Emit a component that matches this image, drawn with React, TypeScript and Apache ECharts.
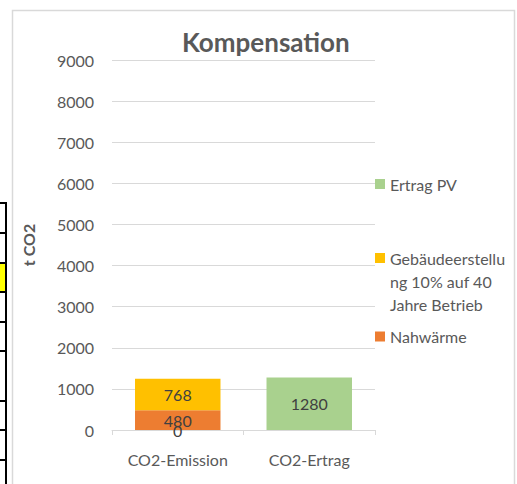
import React, { useEffect, useRef } from "react";
import * as echarts from "echarts";

const categories = ["CO2-Emission", "CO2-Ertrag"];
const ertragPV = [0, 1280];
const nahwaerme = [480, null];
const gebaeude = [768, null];
const yTicks = { min: 0, max: 9000, interval: 1000 };
const gebName = "Gebäudeerstellung 10% auf 40 Jahre Betrieb";

const FONT = "Lato";
const GRAY = "#595959";

export default function App() {
  const ref = useRef<HTMLDivElement>(null);
  useEffect(() => {
    const chart = echarts.init(ref.current!, null, { renderer: "svg" });
    const label = {
      show: true,
      position: "inside",
      color: "#404040",
      fontSize: 16,
      fontFamily: FONT,
    };
    const legendText = { color: GRAY, fontSize: 16, fontFamily: FONT, lineHeight: 23 };
    const cellLines = [203, 233, 263, 292, 322, 351, 401, 430, 460].map((y) => ({
      type: "line",
      shape: { x1: 0, y1: y, x2: 7, y2: y },
      style: { stroke: "#000", lineWidth: 2 },
      z: 10,
    }));
    chart.setOption({
      animation: false,
      backgroundColor: "#fff",
      title: {
        text: "Kompensation",
        left: 177,
        top: 24,
        textStyle: { fontFamily: FONT, fontSize: 26, fontWeight: "bold", color: GRAY },
      },
      graphic: [
        {
          type: "rect",
          shape: { x: 12.5, y: 10.5, width: 502, height: 500 },
          style: { fill: "none", stroke: "#D9D9D9", lineWidth: 1.5 },
          z: 10,
        },
        {
          type: "rect",
          shape: { x: 0, y: 263, width: 6, height: 29 },
          style: { fill: "#FFFF00" },
          z: 9,
        },
        {
          type: "line",
          shape: { x1: 6, y1: 202, x2: 6, y2: 484 },
          style: { stroke: "#000", lineWidth: 2 },
          z: 10,
        },
        ...cellLines,
      ],
      legend: [
        {
          data: ["Ertrag PV"],
          orient: "vertical",
          left: 375,
          top: 172.5,
          padding: 0,
          icon: "rect",
          itemWidth: 10,
          itemHeight: 10,
          itemGap: 5,
          textStyle: legendText,
          selectedMode: false,
        },
        {
          data: [gebName],
          orient: "vertical",
          left: 375,
          top: 200.5,
          padding: 0,
          icon: "rect",
          itemWidth: 10,
          itemHeight: 10,
          itemGap: 5,
          formatter: () => " \n \nGebäudeerstellu\nng 10% auf 40\nJahre Betrieb",
          textStyle: legendText,
          selectedMode: false,
        },
        {
          data: ["Nahwärme"],
          orient: "vertical",
          left: 375,
          top: 325,
          padding: 0,
          icon: "rect",
          itemWidth: 10,
          itemHeight: 10,
          itemGap: 5,
          textStyle: legendText,
          selectedMode: false,
        },
      ],
      grid: { left: 112, right: 142, top: 60, bottom: 54 },
      xAxis: {
        type: "category",
        data: categories,
        axisLine: { show: true, lineStyle: { color: "#D9D9D9", width: 1 } },
        axisTick: { show: true, length: 5, lineStyle: { color: "#D9D9D9" } },
        axisLabel: { color: GRAY, fontSize: 16, fontFamily: FONT, margin: 21 },
      },
      yAxis: {
        type: "value",
        min: yTicks.min,
        max: yTicks.max,
        interval: yTicks.interval,
        name: "t CO2",
        nameLocation: "middle",
        nameRotate: 90,
        nameGap: 76,
        nameTextStyle: { color: GRAY, fontSize: 16, fontWeight: "bold", fontFamily: FONT },
        axisLine: { show: false },
        axisTick: { show: false },
        splitLine: { lineStyle: { color: "#D9D9D9", width: 1 } },
        axisLabel: {
          color: GRAY,
          fontSize: 16,
          fontFamily: FONT,
          margin: 18,
          formatter: (v: number) => String(v),
        },
      },
      series: [
        {
          name: "Ertrag PV",
          type: "bar",
          stack: "s",
          barWidth: "65%",
          data: ertragPV,
          itemStyle: { color: "#A9D18E" },
          label,
          z: 3,
        },
        {
          name: "Nahwärme",
          type: "bar",
          stack: "s",
          data: nahwaerme,
          itemStyle: { color: "#ED7D31" },
          label,
        },
        {
          name: gebName,
          type: "bar",
          stack: "s",
          data: gebaeude,
          itemStyle: { color: "#FFC000" },
          label,
        },
      ],
    });
    return () => chart.dispose();
  }, []);
  return (
    <div
      ref={ref}
      style={{ position: "absolute", left: 0, top: 0, width: 517, height: 484 }}
    />
  );
}
